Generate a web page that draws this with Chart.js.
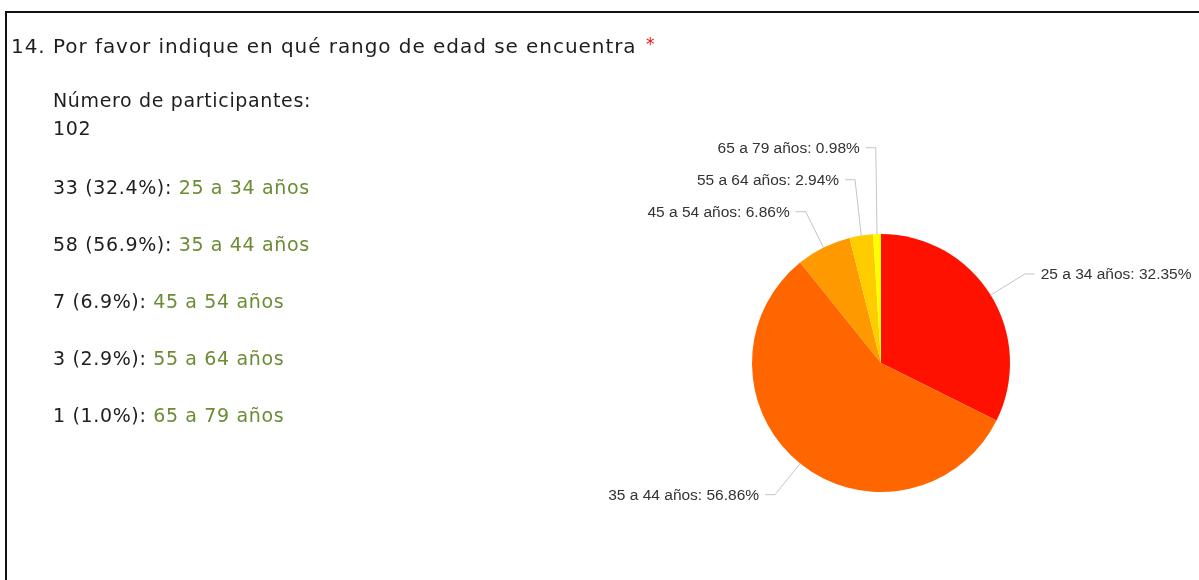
<!DOCTYPE html>
<html>
<head>
<meta charset="utf-8">
<script src="https://cdn.jsdelivr.net/npm/chart.js@4.4.0/dist/chart.umd.min.js"></script>
<style>
  html, body { margin: 0; padding: 0; background: #fff; }
  body { width: 1199px; height: 580px; position: relative; overflow: hidden;
         font-family: "DejaVu Sans", Verdana, sans-serif; color: #1e1e1e; }
  #frame { position: absolute; left: 5px; top: 11px; width: 1300px; height: 700px;
           border-top: 2px solid #111; border-left: 2px solid #111; }
  #pie { position: absolute; left: 0; top: 0; }
  .line { position: absolute; font-size: 19px; line-height: 24px; letter-spacing: 0.65px; white-space: nowrap; }
  #title { left: 11px; top: 32px; font-size: 20px; letter-spacing: 0.95px; }
  .req { color: #f01010; font-size: 17px; vertical-align: 3px; margin-left: 2px; }
  .opt { color: #6b8c35; }
</style>
</head>
<body>
<div id="frame"></div>
<canvas id="pie" width="1199" height="580"></canvas>
<div class="line" id="title">14. Por favor indique en qué rango de edad se encuentra <span class="req">*</span></div>
<div class="line" style="left:53px;top:88px">Número de participantes:</div>
<div class="line" id="total" style="left:53px;top:116px"></div>
<div id="summary"></div>
<script>
const categories = ['25 a 34 años', '35 a 44 años', '45 a 54 años', '55 a 64 años', '65 a 79 años'];
const counts = [33, 58, 7, 3, 1];
const sliceColors = ['#ff1100', '#ff6600', '#ff9900', '#ffcc00', '#ffff00'];

const total = counts.reduce((a, b) => a + b, 0);
document.getElementById('total').textContent = total;

// lista de respuestas a la izquierda
const summary = document.getElementById('summary');
categories.forEach((c, i) => {
    const d = document.createElement('div');
    d.className = 'line';
    d.style.left = '53px';
    d.style.top = (175 + i * 57) + 'px';
    d.innerHTML = counts[i] + ' (' + (counts[i] / total * 100).toFixed(1) + '%): <span class="opt">' + c + '</span>';
    summary.appendChild(d);
});

// etiquetas con lineas guia, estilo google charts
const leaderLabels = {
    id: 'leaderLabels',
    afterDraw(chart) {
        const ctx = chart.ctx;
        const meta = chart.getDatasetMeta(0);
        const data = chart.data.datasets[0].data;
        const items = meta.data.map((arc, i) => {
            const mid = (arc.startAngle + arc.endAngle) / 2;
            const r = arc.outerRadius;
            return {
                i,
                ex: arc.x + Math.cos(mid) * r,
                ey: arc.y + Math.sin(mid) * r,
                kx: arc.x + Math.cos(mid) * (r + 40),
                ky: arc.y + Math.sin(mid) * (r + 40),
                right: Math.cos(mid) >= 0
            };
        });
        // evitar que se encimen: empujar hacia arriba
        [true, false].forEach(side => {
            const group = items.filter(it => it.right === side).sort((a, b) => b.ky - a.ky);
            for (let j = 1; j < group.length; j++) {
                if (group[j].ky > group[j - 1].ky - 32) group[j].ky = group[j - 1].ky - 32;
            }
        });
        ctx.save();
        ctx.font = '15.5px "Liberation Sans", Arial, sans-serif';
        ctx.textBaseline = 'middle';
        items.forEach(it => {
            const dir = it.right ? 1 : -1;
            ctx.strokeStyle = '#c4c4c4';
            ctx.lineWidth = 1;
            ctx.beginPath();
            ctx.moveTo(it.ex, it.ey);
            ctx.lineTo(it.kx, it.ky);
            ctx.lineTo(it.kx + dir * 10, it.ky);
            ctx.stroke();
            ctx.fillStyle = '#333';
            ctx.textAlign = it.right ? 'left' : 'right';
            const pct = (data[it.i] / total * 100).toFixed(2);
            ctx.fillText(chart.data.labels[it.i] + ': ' + pct + '%', it.kx + dir * 16, it.ky + 1);
        });
        ctx.restore();
    }
};

new Chart(document.getElementById('pie'), {
    type: 'pie',
    data: {
        labels: categories,
        datasets: [{
            data: counts,
            backgroundColor: sliceColors,
            borderWidth: 0
        }]
    },
    options: {
        responsive: false,
        animation: false,
        layout: { padding: { left: 752, right: 189, top: 234, bottom: 88 } },
        plugins: {
            legend: { display: false },
            tooltip: { enabled: false }
        }
    },
    plugins: [leaderLabels]
});
</script>
</body>
</html>
